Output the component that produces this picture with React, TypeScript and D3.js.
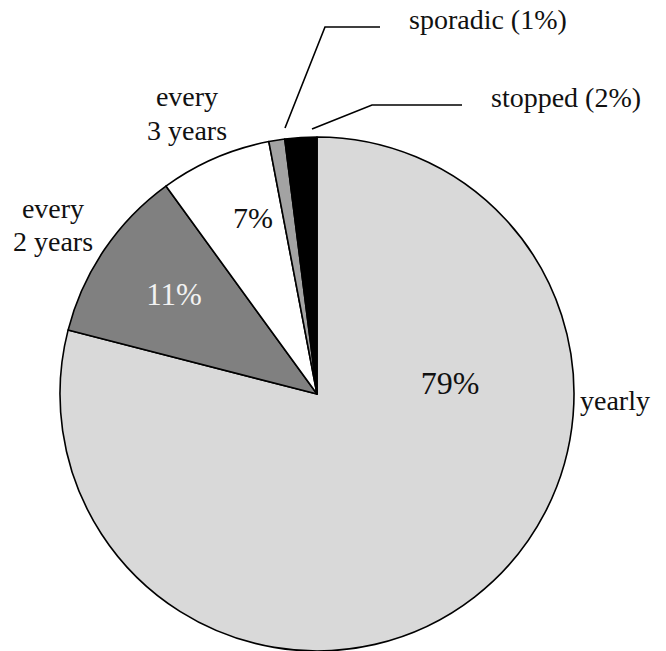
import React from "react";
import * as d3 from "d3";

// Screening frequency shares (percent), clockwise from 12 o'clock
const categories = ["yearly", "every 2 years", "every 3 years", "sporadic", "stopped"];
const shares = [79, 11, 7, 1, 2];
const sliceColors = ["#d9d9d9", "#808080", "#ffffff", "#a3a3a3", "#000000"];

const W = 666;
const H = 651;
const CX = 317;
const CY = 394;
const R = 257;

const serif = "Liberation Serif, Tinos, Times New Roman, DejaVu Serif, serif";

export default function App() {
  const rows = categories.map((name, i) => ({ name, value: shares[i], color: sliceColors[i] }));
  const pie = d3
    .pie<{ name: string; value: number; color: string }>()
    .value((d) => d.value)
    .sort(null)
    .startAngle(0)
    .endAngle(2 * Math.PI);
  const arcs = pie(rows);
  const arcGen = d3.arc<d3.PieArcDatum<any>>().innerRadius(0).outerRadius(R);

  const pct = (i: number) => `${shares[i]}%`;
  const txt = { fontFamily: serif };

  return (
    <svg
      width={W}
      height={H}
      style={{ position: "absolute", left: 0, top: 0, background: "#fff", fontFamily: serif }}
    >
      <g transform={`translate(${CX},${CY})`}>
        {arcs.map((a, i) => (
          <path
            key={i}
            d={arcGen(a) || ""}
            fill={a.data.color}
            stroke="#000"
            strokeWidth={1.6}
            strokeLinejoin="round"
          />
        ))}
      </g>

      {/* percentages inside the slices */}
      <text x={450} y={394} fontSize={32} textAnchor="middle" fill="#111" style={txt}>
        {pct(0)}
      </text>
      <text x={174} y={305} fontSize={31} textAnchor="middle" fill="#f2f2f2" style={txt}>
        {pct(1)}
      </text>
      <text x={253} y={228} fontSize={30} textAnchor="middle" fill="#111" style={txt}>
        {pct(2)}
      </text>

      {/* category labels */}
      <text x={580} y={410} fontSize={28} fill="#111" style={txt}>
        {categories[0]}
      </text>
      <text fontSize={28} textAnchor="middle" fill="#111" style={txt}>
        <tspan x={53} y={218}>every</tspan>
        <tspan x={53} y={251}>2 years</tspan>
      </text>
      <text fontSize={28} textAnchor="middle" fill="#111" style={txt}>
        <tspan x={187} y={106}>every</tspan>
        <tspan x={187} y={140}>3 years</tspan>
      </text>
      <text x={409} y={29} fontSize={28} fill="#111" style={txt}>
        {`${categories[3]} (${shares[3]}%)`}
      </text>
      <text x={491} y={107} fontSize={28} fill="#111" style={txt}>
        {`${categories[4]} (${shares[4]}%)`}
      </text>

      {/* leader lines for the thin slices */}
      <polyline points="285,128 325,27 380,27" fill="none" stroke="#000" strokeWidth={1.6} />
      <polyline points="312,129 372,105 462,105" fill="none" stroke="#000" strokeWidth={1.6} />
    </svg>
  );
}
